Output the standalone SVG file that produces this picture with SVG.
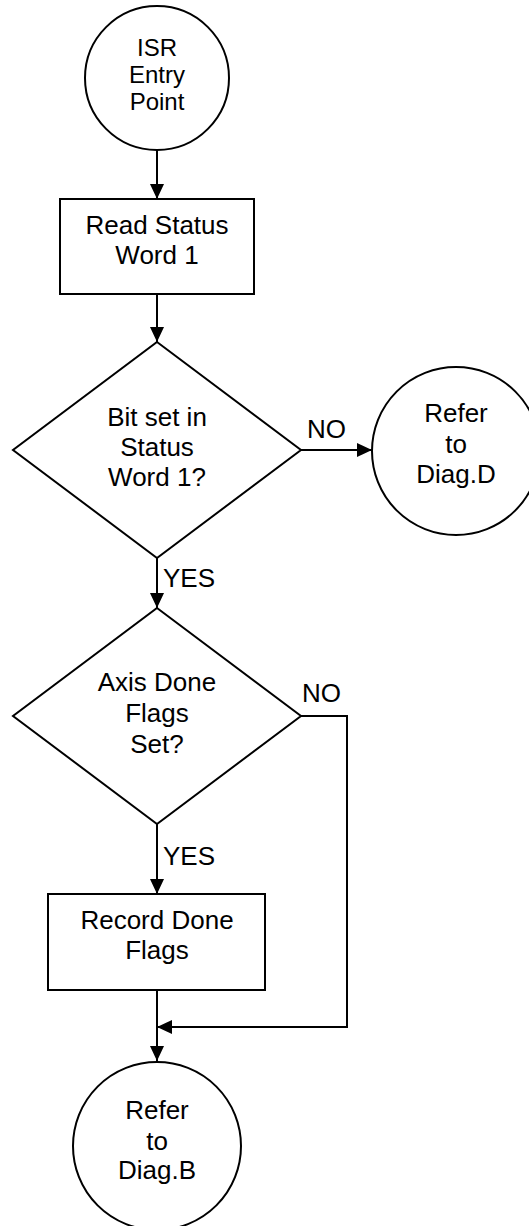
<svg xmlns="http://www.w3.org/2000/svg" width="529" height="1226" viewBox="0 0 529 1226">
<style>
.shape{fill:#fff;stroke:#000;stroke-width:2}
.conn{fill:none;stroke:#000;stroke-width:2}
text{font-family:"Liberation Sans",Arial,sans-serif;font-size:26px;fill:#000}
.c{text-anchor:middle}
.s{font-size:24px}
</style>
<defs>
<marker id="arr" markerUnits="userSpaceOnUse" markerWidth="16" markerHeight="14" refX="15" refY="7" orient="auto">
<path d="M0,0 L15,7 L0,14 Z" fill="#000"/>
</marker>
</defs>
<rect width="529" height="1226" fill="#fff"/>
<g id="connectors">
<path class="conn" d="M157,150 V199" marker-end="url(#arr)"/>
<path class="conn" d="M157,294 V342" marker-end="url(#arr)"/>
<path class="conn" d="M301,450 H372" marker-end="url(#arr)"/>
<path class="conn" d="M157,558 V608" marker-end="url(#arr)"/>
<path class="conn" d="M157,824 V894" marker-end="url(#arr)"/>
<path class="conn" d="M157,990 V1061" marker-end="url(#arr)"/>
<path class="conn" d="M301,716 H347 V1027 H157" marker-end="url(#arr)"/>
<text x="307" y="438">NO</text>
<text x="163" y="587">YES</text>
<text x="302" y="702">NO</text>
<text x="163" y="865">YES</text>
</g>
<g id="isr-entry">
<circle class="shape" cx="157" cy="78" r="72"/>
<text class="c s" x="157" y="56">ISR</text>
<text class="c s" x="157" y="83">Entry</text>
<text class="c s" x="157" y="110">Point</text>
</g>
<g id="read-status">
<rect class="shape" x="60" y="199" width="194" height="95"/>
<text class="c" x="157" y="234">Read Status</text>
<text class="c" x="157" y="264">Word 1</text>
</g>
<g id="bit-set">
<polygon class="shape" points="157,342 301,450 157,558 13,450"/>
<text class="c" x="157" y="426">Bit set in</text>
<text class="c" x="157" y="456">Status</text>
<text class="c" x="157" y="486">Word 1?</text>
</g>
<g id="diag-d">
<circle class="shape" cx="456" cy="451" r="84"/>
<text class="c" x="456" y="422">Refer</text>
<text class="c" x="456" y="453">to</text>
<text class="c" x="456" y="483">Diag.D</text>
</g>
<g id="axis-done">
<polygon class="shape" points="157,608 301,716 157,824 13,716"/>
<text class="c" x="157" y="691">Axis Done</text>
<text class="c" x="157" y="722">Flags</text>
<text class="c" x="157" y="753">Set?</text>
</g>
<g id="record-done">
<rect class="shape" x="48" y="894" width="217" height="96"/>
<text class="c" x="157" y="929">Record Done</text>
<text class="c" x="157" y="959">Flags</text>
</g>
<g id="diag-b">
<circle class="shape" cx="157" cy="1146" r="84"/>
<text class="c" x="157" y="1119">Refer</text>
<text class="c" x="157" y="1150">to</text>
<text class="c" x="157" y="1179">Diag.B</text>
</g>
</svg>
